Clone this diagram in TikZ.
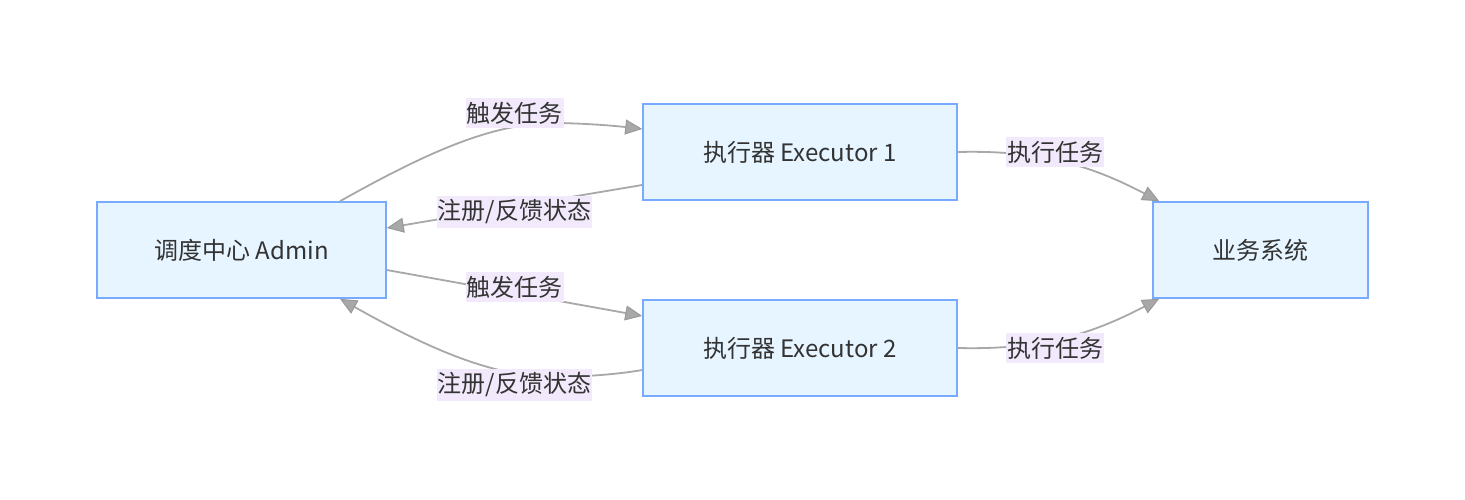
\documentclass[tikz,border=0pt]{standalone}
\usepackage{fontspec}
\setmainfont{Noto Sans CJK SC}
\usetikzlibrary{arrows.meta,calc}
\definecolor{nodefill}{HTML}{E6F5FF}
\definecolor{nodeborder}{HTML}{78AAFF}
\definecolor{edgegray}{HTML}{A8A8A8}
\definecolor{tipgray}{HTML}{999999}
\definecolor{labelbg}{HTML}{F2EAFC}
\definecolor{txt}{HTML}{333333}
\begin{document}
\begin{tikzpicture}[x=1pt,y=-1pt,
  box/.style={draw=nodeborder,fill=nodefill,line width=1.6pt,minimum height=96pt,inner sep=0pt,text=txt,font=\fontsize{24}{28}\selectfont},
  elabel/.style={fill=labelbg,inner xsep=1pt,inner ysep=4pt,text=txt,font=\fontsize{24}{28}\selectfont},
  conn/.style={draw=edgegray,line width=1.8pt,-{Triangle[length=17pt,width=15pt,color=tipgray,fill=edgegray,line width=1pt]}}]
\useasboundingbox (0,0) rectangle (1465,500);
\fill[white] (0,0) rectangle (1465,500);
\node[box,minimum width=289pt] (admin) at (241.5,250) {调度中心 Admin};
\node[box,minimum width=314pt] (ex1) at (800,152) {执行器 Executor 1};
\node[box,minimum width=314pt] (ex2) at (800,348) {执行器 Executor 2};
\node[box,minimum width=215pt] (biz) at (1260.5,250) {业务系统};
% edges
\draw[conn] ($(admin.north)+(98.5,0)$) .. controls (440,145) and (500,122) .. (560,123) .. controls (600,124) and (625,127) .. (ex1.west |- 0,129);
\draw[conn] ($(ex1.west)+(0,33)$) -- ($(admin.east)+(0,-22)$);
\draw[conn] ($(admin.east)+(0,20)$) -- ($(ex2.west)+(0,-32)$);
\draw[conn] ($(ex2.west)+(0,22)$) .. controls (625,373) and (600,376) .. (560,377) .. controls (500,378) and (440,355) .. ($(admin.south)+(98.5,0)$);
\draw[conn] (ex1.east) .. controls (1040,150) and (1090,165) .. ($(biz.north west)+(7,0)$);
\draw[conn] (ex2.east) .. controls (1040,350) and (1090,335) .. ($(biz.south west)+(7,0)$);
% labels
\node[elabel] (l1) at (514.5,113) {触发任务};
\node[elabel] (l2) at (514.5,212) {注册/反馈状态};
\node[elabel] (l3) at (514.5,287) {触发任务};
\node[elabel] (l4) at (514.5,385) {注册/反馈状态};
\node[elabel] (l5) at (1055,152) {执行任务};
\node[elabel] (l6) at (1055,348) {执行任务};
\end{tikzpicture}
\end{document}
